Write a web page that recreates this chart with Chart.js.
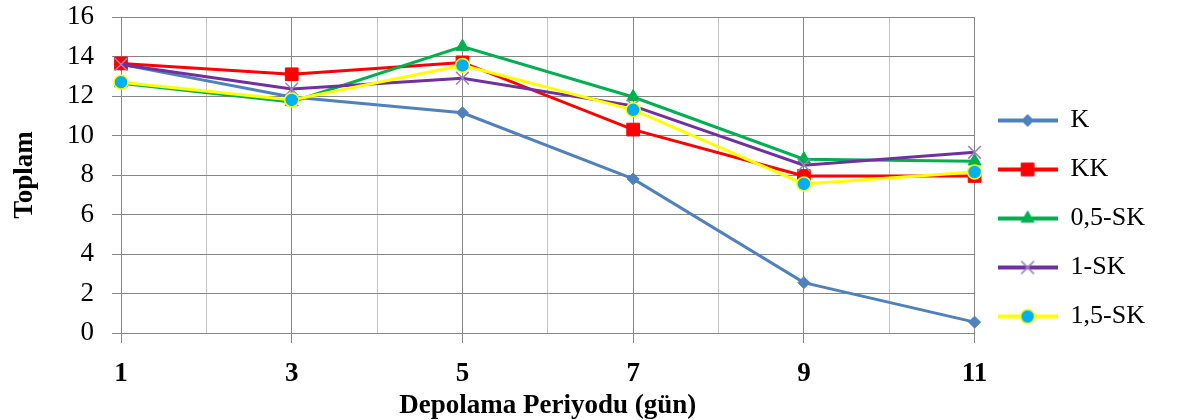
<!DOCTYPE html>
<html>
<head>
<meta charset="utf-8">
<script src="https://cdn.jsdelivr.net/npm/chart.js@4.4.1/dist/chart.umd.min.js"></script>
<style>
html,body{margin:0;padding:0;background:#fff;}
#wrap{width:1178px;height:420px;position:relative;}
</style>
</head>
<body>
<div id="wrap"><canvas id="chart"></canvas></div>
<script>
// storage days (x) and measured totals for each group
const days = [1, 3, 5, 7, 9, 11];
const seriesNames = ['K', 'KK', '0,5-SK', '1-SK', '1,5-SK'];
const valK    = [13.6, 11.95, 11.15, 7.8, 2.55, 0.55];
const valKK   = [13.65, 13.1, 13.7, 10.3, 7.95, 7.95];
const val05SK = [12.65, 11.7, 14.5, 11.95, 8.8, 8.7];
const val1SK  = [13.6, 12.35, 12.9, 11.5, 8.5, 9.15];
const val15SK = [12.7, 11.8, 13.55, 11.3, 7.55, 8.15];
const yTicks = [0, 2, 4, 6, 8, 10, 12, 14, 16];

const serif = "'Liberation Serif', 'Times New Roman', serif";
const gridDark = '#868686';
const gridLight = '#c4c4c4';

const styles = [
  {line:'#4f81bd', point:'rectRot', fill:'#4f81bd', edge:'#4f81bd', r:6, bw:1},
  {line:'#ff0000', point:'rect', fill:'#ff0000', edge:'#ff0000', r:9, bw:1},
  {line:'#00b050', point:'triangle', fill:'#00b050', edge:'#00b050', r:7.5, bw:1},
  {line:'#7030a0', point:'crossRot', fill:'#9a80c4', edge:'#9a80c4', r:9, bw:1.5},
  {line:'#ffff00', point:'circle', fill:'#00b0f0', edge:'#ffff00', r:7, bw:1.5}
];
const allValues = [valK, valKK, val05SK, val1SK, val15SK];

function pts(vals){
  return days.map((d, i) => ({x: d, y: vals[i]}));
}

// small line + marker icons for the legend
function legendIcon(s){
  const c = document.createElement('canvas');
  c.width = 60; c.height = 22;
  const g = c.getContext('2d');
  g.strokeStyle = s.line; g.lineWidth = 4;
  g.beginPath(); g.moveTo(0, 11); g.lineTo(60, 11); g.stroke();
  g.fillStyle = s.fill; g.strokeStyle = s.edge; g.lineWidth = s.bw;
  g.beginPath();
  Chart.helpers.drawPoint(g, {pointStyle: s.point, radius: s.r, borderWidth: s.bw}, 30, 11);
  return c;
}

const datasets = seriesNames.map((name, i) => ({
  label: name,
  data: pts(allValues[i]),
  borderColor: styles[i].line,
  backgroundColor: styles[i].fill,
  borderWidth: 3,
  pointStyle: styles[i].point,
  pointRadius: styles[i].r,
  pointBackgroundColor: styles[i].fill,
  pointBorderColor: styles[i].edge,
  pointBorderWidth: styles[i].bw,
  tension: 0,
  clip: 14,
  order: seriesNames.length - i
}));

let icons = [];

new Chart(document.getElementById('chart'), {
  type: 'line',
  data: {datasets: datasets},
  options: {
    responsive: true,
    maintainAspectRatio: false,
    animation: false,
    layout: {padding: {top: 17, right: 23, bottom: 0, left: 0}},
    plugins: {
      tooltip: {enabled: false},
      legend: {
        position: 'right',
        labels: {
          usePointStyle: true,
          pointStyleWidth: 60,
          padding: 23,
          color: '#000',
          font: {family: serif, size: 26, lineHeight: 1.12},
          sort: (a, b) => a.datasetIndex - b.datasetIndex,
          generateLabels(chart){
            if (!icons.length) icons = styles.map(legendIcon);
            const items = Chart.defaults.plugins.legend.labels.generateLabels(chart);
            items.forEach(it => { it.pointStyle = icons[it.datasetIndex]; it.lineWidth = 0; });
            return items;
          }
        }
      }
    },
    scales: {
      x: {
        type: 'linear',
        min: 1, max: 11,
        afterFit(s){ s.height = 87; s.paddingLeft = 0; s.paddingRight = 0; },
        border: {color: gridDark, width: 1},
        grid: {
          color: c => (c.tick && c.tick.value % 2 === 0) ? gridLight : gridDark,
          tickColor: c => (c.tick && c.tick.value % 2 === 0) ? 'rgba(0,0,0,0)' : gridDark,
          tickLength: 10
        },
        ticks: {
          stepSize: 1,
          autoSkip: false,
          maxRotation: 0,
          padding: 15,
          color: '#000',
          font: {family: serif, size: 27, weight: 'bold'},
          callback: v => (v % 2 === 1 ? String(v) : '')
        },
        title: {
          display: true,
          text: 'Depolama Periyodu (gün)',
          color: '#000',
          font: {family: serif, size: 27, weight: 'bold', lineHeight: 1},
          padding: {top: 0, bottom: 0}
        }
      },
      y: {
        min: 0, max: 16,
        afterFit(s){ s.width = 121; s.paddingTop = 0; s.paddingBottom = 0; },
        afterBuildTicks(s){ s.ticks = yTicks.map(v => ({value: v})); },
        border: {color: gridDark, width: 1},
        grid: {color: gridDark, tickColor: gridDark, tickLength: 9},
        ticks: {
          padding: 18,
          color: '#000',
          font: {family: serif, size: 27}
        },
        title: {
          display: true,
          text: 'Toplam',
          color: '#000',
          font: {family: serif, size: 27, weight: 'bold', lineHeight: 1},
          padding: {top: 12, bottom: 0}
        }
      }
    }
  }
});
</script>
</body>
</html>
